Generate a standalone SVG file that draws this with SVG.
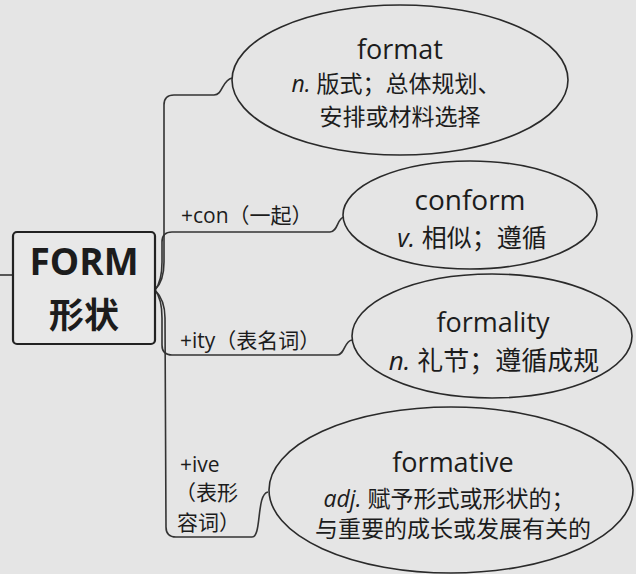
<svg xmlns="http://www.w3.org/2000/svg" width="636" height="574" viewBox="0 0 636 574">
<style>
text{font-family:"Open Sans","Noto Sans CJK SC",sans-serif;fill:#1c1c1c;text-anchor:middle}
.ell{fill:none;stroke:#2a2a2a;stroke-width:1.6}
.con{fill:none;stroke:#333;stroke-width:1.6}
.w{font-size:27px}
.d{font-size:23px}
.lb{font-size:21px;text-anchor:start}
.it{font-style:italic}
</style>
<rect width="636" height="574" fill="#e5e5e5"/>
<g id="connectors">
<path class="con" d="M0,275 L13,275"/>
<path class="con" d="M155,290 C160,285 164,276 164,262 L164,105 Q164,95 174,95 L214,95 C223,95 222,80 232,78"/>
<path class="con" d="M155,290 C159,285 162,276 162,262 L162,242 Q162,232 172,232 L330,232 C338,232 337,218 344,217"/>
<path class="con" d="M155,290 C159,295 162,304 162,318 L162,345 Q162,355 172,355 L337,355 C345,355 344,341 352,340"/>
<path class="con" d="M155,290 C160,295 165,304 165,318 L166,527 Q166,537 176,537 L252,537 C262,537 256,494 268,492"/>
</g>
<g id="form">
<rect x="13" y="232" width="142" height="112" rx="4" fill="#e8e8e8" stroke="#222" stroke-width="2.2"/>
<text x="84" y="275" style="font-size:37px;font-weight:bold">FORM</text>
<text x="84" y="328" style="font-size:35px;font-weight:bold">形状</text>
</g>
<g id="format">
<ellipse class="ell" cx="400" cy="80" rx="168" ry="75"/>
<text class="w" x="400" y="59">format</text>
<text class="d" x="396" y="92"><tspan class="it">n.</tspan> 版式；总体规划、</text>
<text class="d" x="400" y="125">安排或材料选择</text>
</g>
<g id="plus-con">
<text class="lb" x="181" y="223">+con（一起）</text>
</g>
<g id="conform">
<ellipse class="ell" cx="470" cy="215" rx="127" ry="54"/>
<text x="470" y="210" style="font-size:28px">conform</text>
<text x="472" y="247" style="font-size:25px"><tspan class="it">v.</tspan> 相似；遵循</text>
</g>
<g id="plus-ity">
<text class="lb" x="180" y="348">+ity（表名词）</text>
</g>
<g id="formality">
<ellipse class="ell" cx="492" cy="336" rx="140" ry="62"/>
<text class="w" x="493" y="332">formality</text>
<text x="494" y="370" style="font-size:26px"><tspan class="it">n.</tspan> 礼节；遵循成规</text>
</g>
<g id="plus-ive">
<text class="lb" x="180" y="472">+ive</text>
<text class="lb" x="175" y="500">（表形</text>
<text class="lb" x="177" y="530">容词）</text>
</g>
<g id="formative">
<ellipse class="ell" cx="451" cy="490" rx="182" ry="83"/>
<text class="w" x="453" y="472">formative</text>
<text class="d" x="449" y="507"><tspan class="it">adj.</tspan> 赋予形式或形状的；</text>
<text class="d" x="453" y="537">与重要的成长或发展有关的</text>
</g>
</svg>
